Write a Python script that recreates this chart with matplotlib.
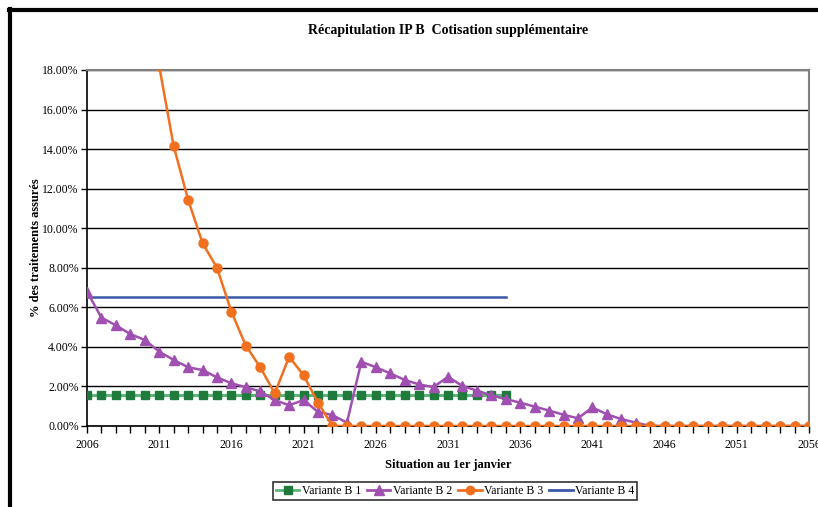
import numpy as np
import matplotlib
matplotlib.use("Agg")
import matplotlib.pyplot as plt
from matplotlib.ticker import FuncFormatter, MultipleLocator, FixedLocator
from matplotlib.lines import Line2D

plt.rcParams['font.family'] = ['Liberation Serif', 'DejaVu Serif']

years = list(range(2006, 2057))
label_years = list(range(2006, 2057, 5))

# Variante B 1 : 2006-2035
b1_years = list(range(2006, 2036))
b1 = [1.55] * 30

# Variante B 2 : 2006-2056
b2 = [6.8, 5.48, 5.09, 4.65, 4.35, 3.76, 3.34, 2.97, 2.83, 2.46,
      2.16, 1.96, 1.75, 1.31, 1.05, 1.31, 0.71, 0.55, 0.17, 3.25,
      2.97, 2.66, 2.33, 2.1, 1.97, 2.49, 2.02, 1.79, 1.55, 1.36,
      1.18, 0.98, 0.78, 0.57, 0.39, 0.94, 0.59, 0.35, 0.17, 0.0,
      0.0, 0.0, 0.0, 0.0, 0.0, 0.0, 0.0, 0.0, 0.0, 0.0, 0.0]

# Variante B 3 : 2011-2056 (earlier years off scale)
b3_years = list(range(2011, 2057))
b3 = [18.2, 14.16, 11.44, 9.25, 8.0, 5.78, 4.06, 2.97, 1.65, 3.5,
      2.56, 1.18] + [0.0] * 34

# Variante B 4 : 2006-2035
b4_years = list(range(2006, 2036))
b4 = [6.5] * 30

fig = plt.figure(figsize=(8.18, 5.07), dpi=100)
ax = fig.add_axes([87 / 818, 1 - 426 / 507, (809 - 87) / 818, (426 - 70) / 507])

ax.plot(b1_years, b1, color='#5cb87a', lw=2.2, marker='s', ms=6,
        mfc='#1f7a3c', mec='#1f7a3c', label='Variante B 1', zorder=3)
ax.plot(years, b2, color='#a050b0', lw=1.8, marker='^', ms=7,
        mfc='#a050b0', mec='#a050b0', label='Variante B 2', zorder=4)
ax.plot(b3_years, b3, color='#f07020', lw=1.8, marker='o', ms=6.5,
        mfc='#f07020', mec='#f07020', label='Variante B 3', zorder=5)
ax.plot(b4_years, b4, color='#3a58a8', lw=1.8, label='Variante B 4', zorder=3)

ax.set_xlim(2006, 2056)
ax.set_ylim(0, 18)
ax.xaxis.set_major_locator(FixedLocator(label_years))
ax.xaxis.set_minor_locator(MultipleLocator(1))
ax.yaxis.set_major_locator(MultipleLocator(2))
ax.yaxis.set_major_formatter(FuncFormatter(lambda v, p: f"{v:.2f}%"))
ax.grid(axis='y', color='black', lw=1)
ax.set_axisbelow(True)

for s in ['top', 'right']:
    ax.spines[s].set_color('#808080')
    ax.spines[s].set_linewidth(1.5)
for s in ['left', 'bottom']:
    ax.spines[s].set_color('black')
    ax.spines[s].set_linewidth(1.2)
ax.tick_params(axis='both', which='both', direction='out', labelsize=8.5,
               color='black', width=1)
ax.tick_params(axis='x', which='major', length=5, pad=4)
ax.tick_params(axis='x', which='minor', length=5)
ax.tick_params(axis='y', length=4, pad=2)

ax.set_title('Récapitulation IP B  Cotisation supplémentaire', fontsize=10,
             fontweight='bold', pad=26)
ax.set_xlabel('Situation au 1er janvier', fontsize=9, fontweight='bold', labelpad=6)
ax.set_ylabel('% des traitements assurés', fontsize=9, fontweight='bold')
ax.yaxis.set_label_coords(-0.062, 0.5)

handles = [
    Line2D([], [], color='#5cb87a', lw=2, marker='s', ms=6, mfc='#1f7a3c', mec='#1f7a3c'),
    Line2D([], [], color='#a050b0', lw=2, marker='^', ms=7),
    Line2D([], [], color='#f07020', lw=2, marker='o', ms=6),
    Line2D([], [], color='#3a58a8', lw=2),
]
leg = fig.legend(handles, ['Variante B 1', 'Variante B 2', 'Variante B 3', 'Variante B 4'],
                 loc='center', bbox_to_anchor=(455 / 818, 1 - 491 / 507), ncol=4,
                 fontsize=8.5, frameon=True, fancybox=False, edgecolor='black',
                 handlelength=2.0, handletextpad=0.2, columnspacing=0.5,
                 borderpad=0.25)
leg.get_frame().set_linewidth(1.2)

# outer frame (top and left visible)
fig.add_artist(Line2D([9 / 818, 1], [1 - 10 / 507, 1 - 10 / 507], color='black', lw=3,
                      transform=fig.transFigure))
fig.add_artist(Line2D([10 / 818, 10 / 818], [0, 1 - 9 / 507], color='black', lw=3,
                      transform=fig.transFigure))

fig.savefig('out.png', dpi=100)
